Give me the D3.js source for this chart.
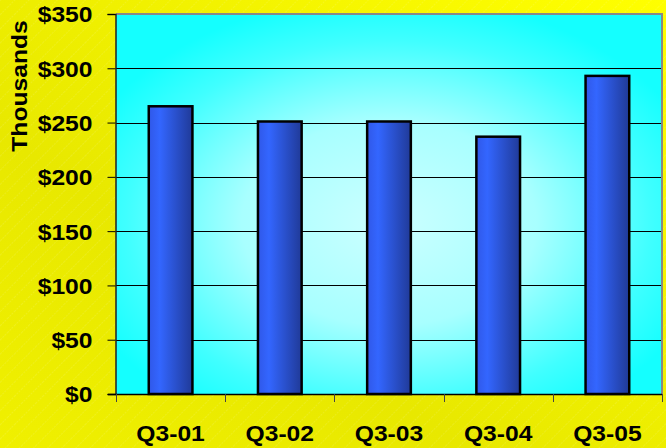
<!DOCTYPE html>
<html><head><meta charset="utf-8">
<script src="https://cdn.jsdelivr.net/npm/d3@7"></script>
<style>html,body{margin:0;padding:0;overflow:hidden;background:#ff0}</style>
</head><body>
<svg id="c" width="666" height="448"></svg>
<script>
const categories = ["Q3-01","Q3-02","Q3-03","Q3-04","Q3-05"];
const values = [265, 251, 251, 237, 293];
const yTicks = [0,50,100,150,200,250,300,350];
const yTickLabels = ["$0","$50","$100","$150","$200","$250","$300","$350"];
const yTitle = "Thousands";

const W=666,H=448, m={l:116,t:14,r:4,b:54};
const svg=d3.select("#c");
const defs=svg.append("defs");
const FONT="'Liberation Sans', Arial, sans-serif";
const FS=22;
const STRETCH=1.12;

// background gradient
const bg=defs.append("linearGradient").attr("id","bg").attr("x1","0").attr("y1","1").attr("x2","1").attr("y2","0");
bg.append("stop").attr("offset","0").attr("stop-color","#f0f000");
bg.append("stop").attr("offset","0.35").attr("stop-color","#e8e800");
bg.append("stop").attr("offset","1").attr("stop-color","#ffff00");
const pat=defs.append("pattern").attr("id","hatch").attr("patternUnits","userSpaceOnUse")
  .attr("width",10).attr("height",10).attr("patternTransform","rotate(-45)");
pat.append("line").attr("x1",0).attr("y1",0).attr("x2",10).attr("y2",0)
  .attr("stroke","#fff").attr("stroke-opacity",0.3).attr("stroke-width",0.7).attr("stroke-dasharray","2,1");
svg.append("rect").attr("width",W).attr("height",H).attr("fill","url(#bg)");
svg.append("rect").attr("width",W).attr("height",H).attr("fill","url(#hatch)");

// plot gradient
const pg=defs.append("radialGradient").attr("id","pg").attr("cx","0.5").attr("cy","0.55").attr("r","0.6");
pg.append("stop").attr("offset","0").attr("stop-color","#ccffff");
pg.append("stop").attr("offset","0.45").attr("stop-color","#a8ffff");
pg.append("stop").attr("offset","0.8").attr("stop-color","#40ffff");
pg.append("stop").attr("offset","1").attr("stop-color","#14ffff");

const barg=defs.append("linearGradient").attr("id","barg").attr("x1","0").attr("x2","1").attr("y1","0").attr("y2","0");
barg.append("stop").attr("offset","0").attr("stop-color","#3058e8");
barg.append("stop").attr("offset","0.25").attr("stop-color","#3366ff");
barg.append("stop").attr("offset","1").attr("stop-color","#203a98");

const x=d3.scaleBand().domain(categories).range([m.l,W-m.r]).paddingInner(0.6).paddingOuter(0.3);
const xb=d3.scaleBand().domain(categories).range([m.l,W-m.r]);
const y=d3.scaleLinear().domain([0,350]).range([H-m.b,m.t]);

svg.append("rect").attr("x",m.l).attr("y",m.t).attr("width",W-m.r-m.l).attr("height",H-m.b-m.t).attr("fill","url(#pg)");

// gridlines
svg.append("g").selectAll("line").data(yTicks.filter(d=>d>0&&d<350)).join("line")
  .attr("x1",m.l).attr("x2",W-m.r).attr("y1",d=>Math.round(y(d))+0.5).attr("y2",d=>Math.round(y(d))+0.5)
  .attr("stroke","#000").attr("stroke-width",1);

// border top/right
svg.append("path").attr("d",`M${m.l},${m.t}H${W-m.r}V${H-m.b}`).attr("fill","none").attr("stroke","#888").attr("stroke-width",2);

// bars
svg.append("g").selectAll("rect").data(values).join("rect")
  .attr("x",(d,i)=>x(categories[i])).attr("width",x.bandwidth())
  .attr("y",d=>y(d)).attr("height",d=>y(0)-y(d))
  .attr("fill","url(#barg)").attr("stroke","#000").attr("stroke-width",2.5);

// axes
const ya=d3.axisLeft(y).tickValues(yTicks).tickFormat((d,i)=>yTickLabels[i]).tickSize(8).tickPadding(15);
const gy=svg.append("g").attr("transform",`translate(${m.l-0.5},0)`).call(ya);
gy.select(".domain").attr("stroke","#222").attr("stroke-width",1.5);
gy.selectAll(".tick line").attr("stroke","#000");
gy.selectAll(".tick text").attr("font-family",FONT).attr("font-weight","bold").attr("font-size",FS).attr("fill","#000").attr("dy","0.36em");

const xa=d3.axisBottom(xb).tickSize(0).tickFormat("");
const gx=svg.append("g").attr("transform",`translate(0,${H-m.b})`).call(xa);
gx.select(".domain").remove();
svg.append("line").attr("x1",m.l-8).attr("x2",W-m.r).attr("y1",H-m.b+0.5).attr("y2",H-m.b+0.5).attr("stroke","#000").attr("stroke-width",1.5);
const bounds=categories.map(c=>xb(c)).concat([W-m.r]);
svg.append("g").selectAll("line").data(bounds).join("line")
  .attr("x1",d=>Math.round(d)+0.5).attr("x2",d=>Math.round(d)+0.5).attr("y1",H-m.b).attr("y2",H-m.b+8)
  .attr("stroke","#444").attr("stroke-width",1);

svg.append("g").selectAll("text").data(categories).join("text")
  .attr("x",d=>xb(d)+xb.bandwidth()/2).attr("y",441).attr("text-anchor","middle")
  .attr("font-family",FONT).attr("font-weight","bold").attr("font-size",FS).attr("fill","#000").text(d=>d);

// title
svg.append("text").attr("transform","translate(27,86) rotate(-90)").attr("text-anchor","middle")
  .attr("font-family",FONT).attr("font-weight","bold").attr("font-size",FS).attr("fill","#000").text(yTitle);

// stretch all text horizontally
svg.selectAll("text").each(function(){
  const len=this.getComputedTextLength();
  if(len>0){ d3.select(this).attr("textLength",len*STRETCH).attr("lengthAdjust","spacingAndGlyphs"); }
});
</script>
</body></html>
